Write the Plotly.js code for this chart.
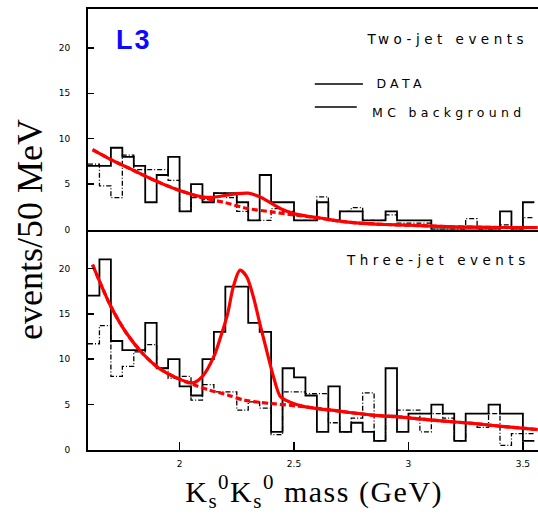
<!DOCTYPE html>
<html>
<head>
<meta charset="utf-8">
<script src="https://cdn.plot.ly/plotly-3.0.1.min.js"></script>
<style>
html,body{margin:0;padding:0;background:#fff;}
#chart{width:538px;height:518px;}
g.annotation[data-index="1"] text, g.annotation[data-index="2"] text{letter-spacing:4.5px;}
g.annotation[data-index="3"] text, g.annotation[data-index="4"] text{letter-spacing:4.3px;}
g.annotation[data-index="0"] text{letter-spacing:2px;}
g.annotation[data-index="6"] text{letter-spacing:1.5px;}
</style>
</head>
<body>
<div id="chart"></div>
<script>
// lower edges of the 50 MeV mass bins (GeV)
const massBins = [1.60,1.65,1.70,1.75,1.80,1.85,1.90,1.95,2.00,2.05,2.10,2.15,2.20,2.25,2.30,2.35,2.40,2.45,2.50,2.55,
                  2.60,2.65,2.70,2.75,2.80,2.85,2.90,2.95,3.00,3.05,3.10,3.15,3.20,3.25,3.30,3.35,3.40,3.45,3.50];
const lastEdge = 3.55;

// Two-jet events
const twoJetData = [7,7,9,8,7,3,6,8,2,5,3,4,4,3,1,6,3,3,1,1,3,1,2,2,1,1,2,1,1,1,0,0,0,0,0,0,2,0,3];
const twoJetMC   = [7.2,4.8,3.5,8.2,6.6,6.6,6.6,5.4,2,3.5,3.3,4,3.5,2,1,1,2.3,2,1,1,3.6,1,2,2.4,1,1,1.6,0.7,0.7,0.7,0,0,0,1.2,0,0,0.5,0,1.3];
const twoJetBgX  = [1.62,1.70,1.80,1.90,2.00,2.10,2.20,2.30,2.40,2.50,2.60,2.70,2.80,2.90,3.00,3.20,3.40,3.565];
const twoJetBgY  = [8.8,7.7,6.5,5.3,4.3,3.5,2.95,2.3,1.95,1.6,1.3,0.9,0.68,0.55,0.47,0.3,0.22,0.2];
const twoJetFitX = [1.62,1.70,1.80,1.90,2.00,2.10,2.15,2.20,2.25,2.30,2.35,2.40,2.45,2.50,2.55,2.60,2.70,2.80,2.90,3.00,3.20,3.40,3.565];
const twoJetFitY = [8.8,7.7,6.5,5.3,4.3,3.6,3.55,3.75,3.95,4.0,3.6,2.9,2.2,1.75,1.5,1.32,0.92,0.68,0.55,0.47,0.3,0.22,0.2];

// Three-jet events
const threeJetData = [17,21,12,11,11,14,9,10,7,6,10,13,18,18,14,13,2,9,8,6,2,7,2,3,2,1,9,2,4,4,5,4,1,4,4,5,4,4,1];
const threeJetMC   = [11.7,13.7,8.1,9.2,10.8,11.6,9,7.9,8.1,5.5,7.2,6.4,6.4,4.4,5.3,4.6,1.7,6.4,6.4,6.2,6.2,3,2,3.5,6.3,1,3.8,4.4,4.4,2,4,3.5,1,3,2.5,4,0.5,1.8,1.8];
const threeJetBgX  = [1.62,1.70,1.77,1.84,1.91,1.99,2.06,2.13,2.21,2.28,2.35,2.42,2.55,2.69,2.84,2.98,3.13,3.28,3.42,3.565];
const threeJetBgY  = [20.4,15.8,12.8,10.6,9.0,7.9,7.2,6.6,6.06,5.5,5.25,5.07,4.75,4.3,3.85,3.6,3.23,2.93,2.57,2.25];
const threeJetFitX = [1.62,1.70,1.77,1.84,1.91,1.99,2.06,2.10,2.15,2.18,2.21,2.235,2.264,2.293,2.322,2.351,2.38,2.41,2.44,2.48,2.55,2.69,2.84,2.98,3.13,3.28,3.42,3.565];
const threeJetFitY = [20.4,15.8,12.8,10.6,9.0,7.9,7.4,8.1,10.3,12.5,15.0,18.0,19.8,19.1,16.9,13.9,11.0,8.1,5.9,5.3,4.75,4.3,3.85,3.6,3.23,2.93,2.57,2.25];

const yTicks = [0,5,10,15,20];
const xTicks = [2,2.5,3,3.5];
const xTickText = ['2','2.5','3','3.5'];

function steps(vals){ return {x: massBins.concat([lastEdge]), y: vals.concat([vals[vals.length-1]])}; }

const red = '#ff0000';
function histTrace(vals, xa, ya, mc){
  const s = steps(vals);
  return {x:s.x, y:s.y, xaxis:xa, yaxis:ya, type:'scatter', mode:'lines',
          line:{shape:'hv', color:'#000', width: mc?1.3:1.8, dash: mc?'5px,2px,1px,2px':'solid'},
          hoverinfo:'skip', showlegend:false};
}
function curve(xs, ys, xa, ya, dashed){
  return {x:xs, y:ys, xaxis:xa, yaxis:ya, type:'scatter', mode:'lines',
          line:{shape:'spline', smoothing:0.8, color:red, width:3.2, dash: dashed?'6px,3px':'solid'},
          hoverinfo:'skip', showlegend:false};
}

const traces = [
  histTrace(twoJetMC,'x','y',true),
  histTrace(twoJetData,'x','y',false),
  curve(twoJetBgX,twoJetBgY,'x','y',true),
  curve(twoJetFitX,twoJetFitY,'x','y',false),
  histTrace(threeJetMC,'x2','y2',true),
  histTrace(threeJetData,'x2','y2',false),
  curve(threeJetBgX,threeJetBgY,'x2','y2',true),
  curve(threeJetFitX,threeJetFitY,'x2','y2',false)
];

const tickFont = {family:'DejaVu Sans, sans-serif', size:9, color:'#000'};
const yCommon = {range:[0,24.28], tickvals:yTicks, ticks:'inside', ticklen:6, tickwidth:1.5, tickcolor:'#000',
  showline:true, linecolor:'#000', linewidth:2, showgrid:false, zeroline:false, tickfont:tickFont,
  ticklabelstandoff:14, fixedrange:true};
const xRange = [1.6, 3.566];

const layout = {
  width:538, height:518,
  margin:{l:88, r:0, t:9, b:68},
  paper_bgcolor:'#fff', plot_bgcolor:'#fff',
  showlegend:false,
  xaxis:{domain:[0,1], anchor:'y', range:xRange, showticklabels:false, ticks:'', showline:true, mirror:true,
         linecolor:'#000', linewidth:2, showgrid:false, zeroline:false, fixedrange:true},
  yaxis:Object.assign({domain:[0.5,1], anchor:'x'}, yCommon),
  xaxis2:{domain:[0,1], anchor:'y2', range:xRange, tickvals:xTicks, ticktext:xTickText, ticks:'inside', ticklen:8,
          tickwidth:1.5, tickcolor:'#000', showline:true, linecolor:'#000', linewidth:2, showgrid:false,
          zeroline:false, tickfont:tickFont, ticklabelstandoff:4, fixedrange:true},
  yaxis2:Object.assign({domain:[0,0.5], anchor:'x2'}, yCommon),
  shapes:[
    {type:'line', xref:'paper', yref:'paper', x0:0.504, x1:0.611, y0:0.830, y1:0.830, line:{color:'#000', width:1.5}},
    {type:'line', xref:'paper', yref:'paper', x0:0.504, x1:0.604, y0:0.778, y1:0.778, line:{color:'#000', width:1.5, dash:'42px,3px,2px,60px'}}
  ],
  annotations:[
    {xref:'paper', yref:'paper', x:0.103, y:0.929, xanchor:'center', yanchor:'middle', showarrow:false,
     text:'<b>L3</b>', font:{family:'Liberation Sans, Arial, sans-serif', size:27, color:'#0a0aff'}},
    {xref:'paper', yref:'paper', x:0.799, y:0.932, xanchor:'center', yanchor:'middle', showarrow:false,
     text:'Two-jet events', font:{family:'DejaVu Sans, sans-serif', size:13.5, color:'#000'}},
    {xref:'paper', yref:'paper', x:0.778, y:0.431, xanchor:'center', yanchor:'middle', showarrow:false,
     text:'Three-jet events', font:{family:'DejaVu Sans, sans-serif', size:13.5, color:'#000'}},
    {xref:'paper', yref:'paper', x:0.697, y:0.831, xanchor:'center', yanchor:'middle', showarrow:false,
     text:'DATA', font:{family:'DejaVu Sans, sans-serif', size:12.5, color:'#000'}},
    {xref:'paper', yref:'paper', x:0.801, y:0.766, xanchor:'center', yanchor:'middle', showarrow:false,
     text:'MC background', font:{family:'DejaVu Sans, sans-serif', size:12.5, color:'#000'}},
    {xref:'paper', yref:'paper', x:-0.13, y:0.50, xanchor:'center', yanchor:'middle', showarrow:false, textangle:-90,
     text:'events/50 MeV', font:{family:'Liberation Serif, Times New Roman, serif', size:36, color:'#000'}},
    {xref:'paper', yref:'paper', x:0.503, y:-0.094, xanchor:'center', yanchor:'middle', showarrow:false,
     text:'K<sub>s</sub><sup>0</sup>K<sub>s</sub><sup>0</sup> mass (GeV)',
     font:{family:'Liberation Serif, Times New Roman, serif', size:30, color:'#000'}}
  ]
};

Plotly.newPlot('chart', traces, layout, {staticPlot:true, displayModeBar:false});
</script>
</body>
</html>
